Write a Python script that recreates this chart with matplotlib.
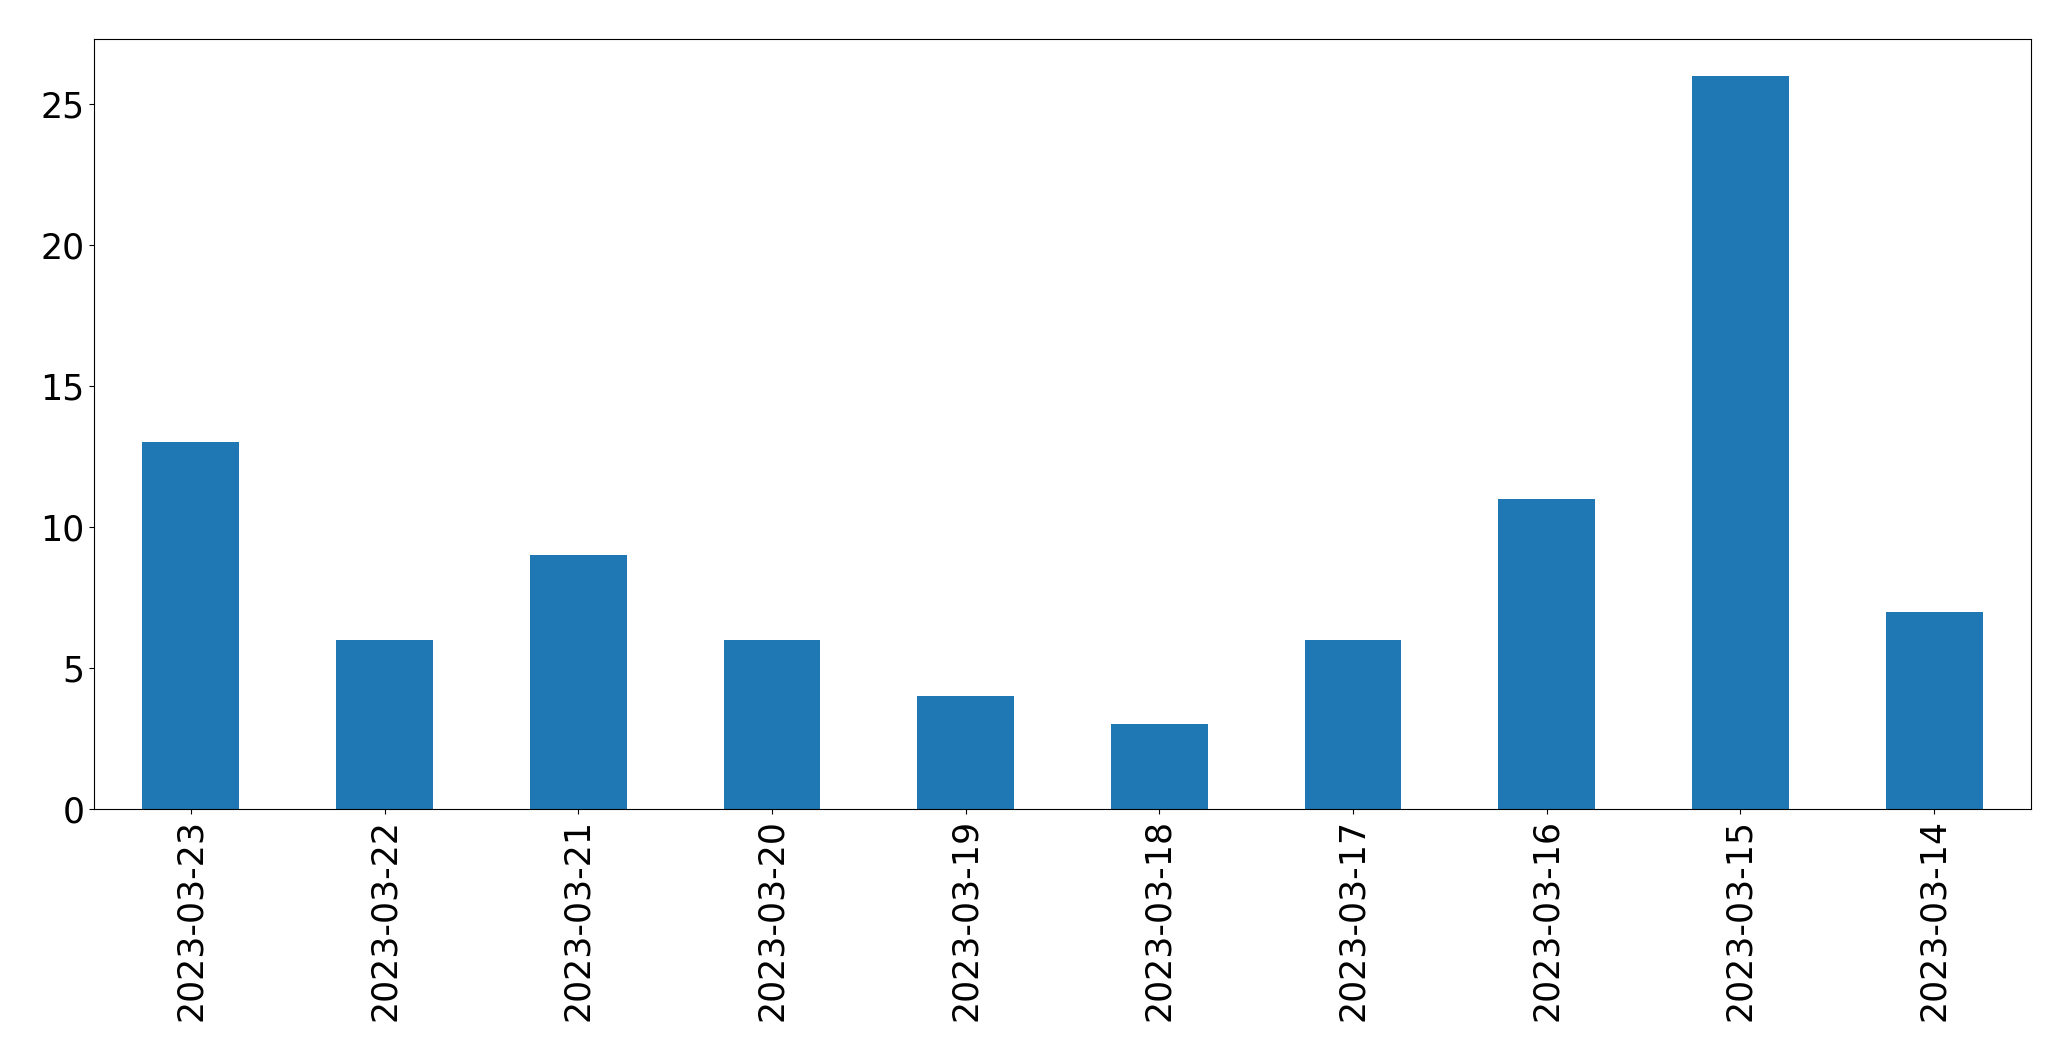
import matplotlib
matplotlib.use("Agg")
import matplotlib.pyplot as plt
import pandas as pd

dates = ["2023-03-23", "2023-03-22", "2023-03-21", "2023-03-20", "2023-03-19",
         "2023-03-18", "2023-03-17", "2023-03-16", "2023-03-15", "2023-03-14"]
counts = [13, 6, 9, 6, 4, 3, 6, 11, 26, 7]

series = pd.Series(counts, index=dates)

fig, ax = plt.subplots(figsize=(20.71, 10.61), dpi=100)
series.plot(kind="bar", ax=ax, color="#1f77b4")
ax.tick_params(axis="both", labelsize=25)
plt.subplots_adjust(left=94 / 2071, right=2031 / 2071, bottom=1 - 809 / 1061, top=1 - 39 / 1061)
plt.savefig("out.png", dpi=100)
plt.close()
